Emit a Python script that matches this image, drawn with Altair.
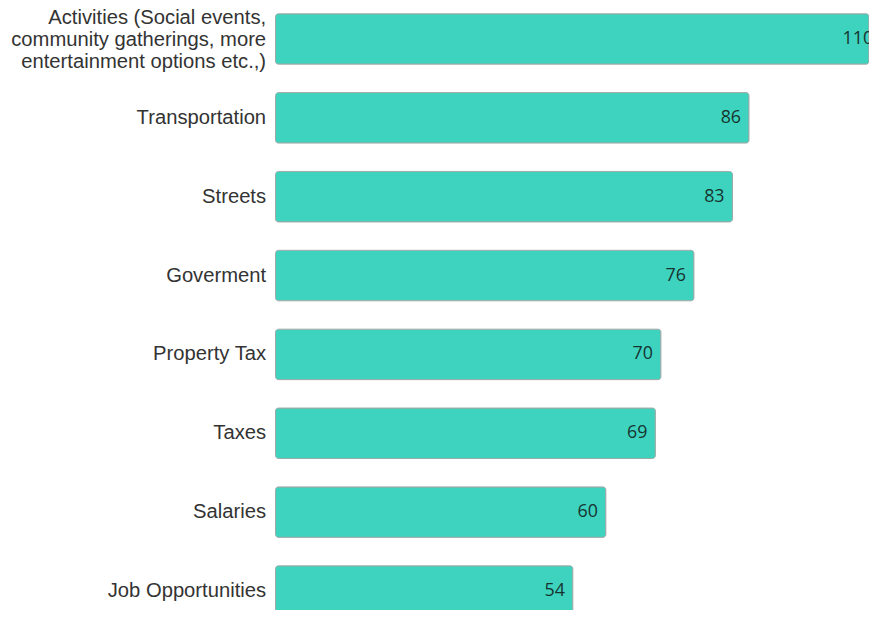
import json
import altair as alt
import pandas as pd

activity_lines = ["Activities (Social events,", "community gatherings, more", "entertainment options etc.,)"]
categories = [" ".join(activity_lines), "Transportation", "Streets", "Goverment",
              "Property Tax", "Taxes", "Salaries", "Job Opportunities"]
values = [110, 86, 83, 76, 70, 69, 60, 54]

df = pd.DataFrame({"category": categories, "value": values})

first = json.dumps(categories[0])
label_expr = f"datum.label == {first} ? {json.dumps(activity_lines)} : datum.label"

y_enc = alt.Y("category:N", sort=categories, title=None,
              scale=alt.Scale(paddingInner=0.36, paddingOuter=0, range=[3, 611.1]),
              axis=alt.Axis(labelExpr=label_expr, labelFont="Liberation Sans", labelFontSize=20.4,
                            labelColor="#333333", labelLimit=400, labelPadding=10,
                            labelLineHeight=22, domain=False, ticks=False, grid=False,
                            labelOffset={"condition": {"test": f"datum.label == {first}", "value": -21},
                                         "value": 0}))
x_bar = alt.X("value:Q", title=None, axis=None,
              scale=alt.Scale(domain=[0, 107.8], nice=False, zero=True, clamp=True))
x_txt = alt.X("value:Q", title=None, axis=None,
              scale=alt.Scale(domain=[0, 107.8], nice=False, zero=True))

base = alt.Chart(df)
bars = base.mark_bar(color="#3ed3bf", stroke="#9aaaa6", strokeWidth=1,
                     cornerRadius=3).encode(x=x_bar, y=y_enc)
text = base.mark_text(align="right", baseline="middle", dx=-8, font="Open Sans",
                      fontSize=18, color="#17332f", clip=True).encode(
    x=x_txt, y=y_enc, text="value:Q")

chart = (bars + text).resolve_scale(x="independent").properties(
    width=599, height=602,
    autosize=alt.AutoSizeParams(type="none"),
    padding={"left": 270, "top": 0, "right": 0, "bottom": 0},
).configure_view(stroke=None)
chart.save("out.html", embed_options={"renderer": "svg", "actions": False})
